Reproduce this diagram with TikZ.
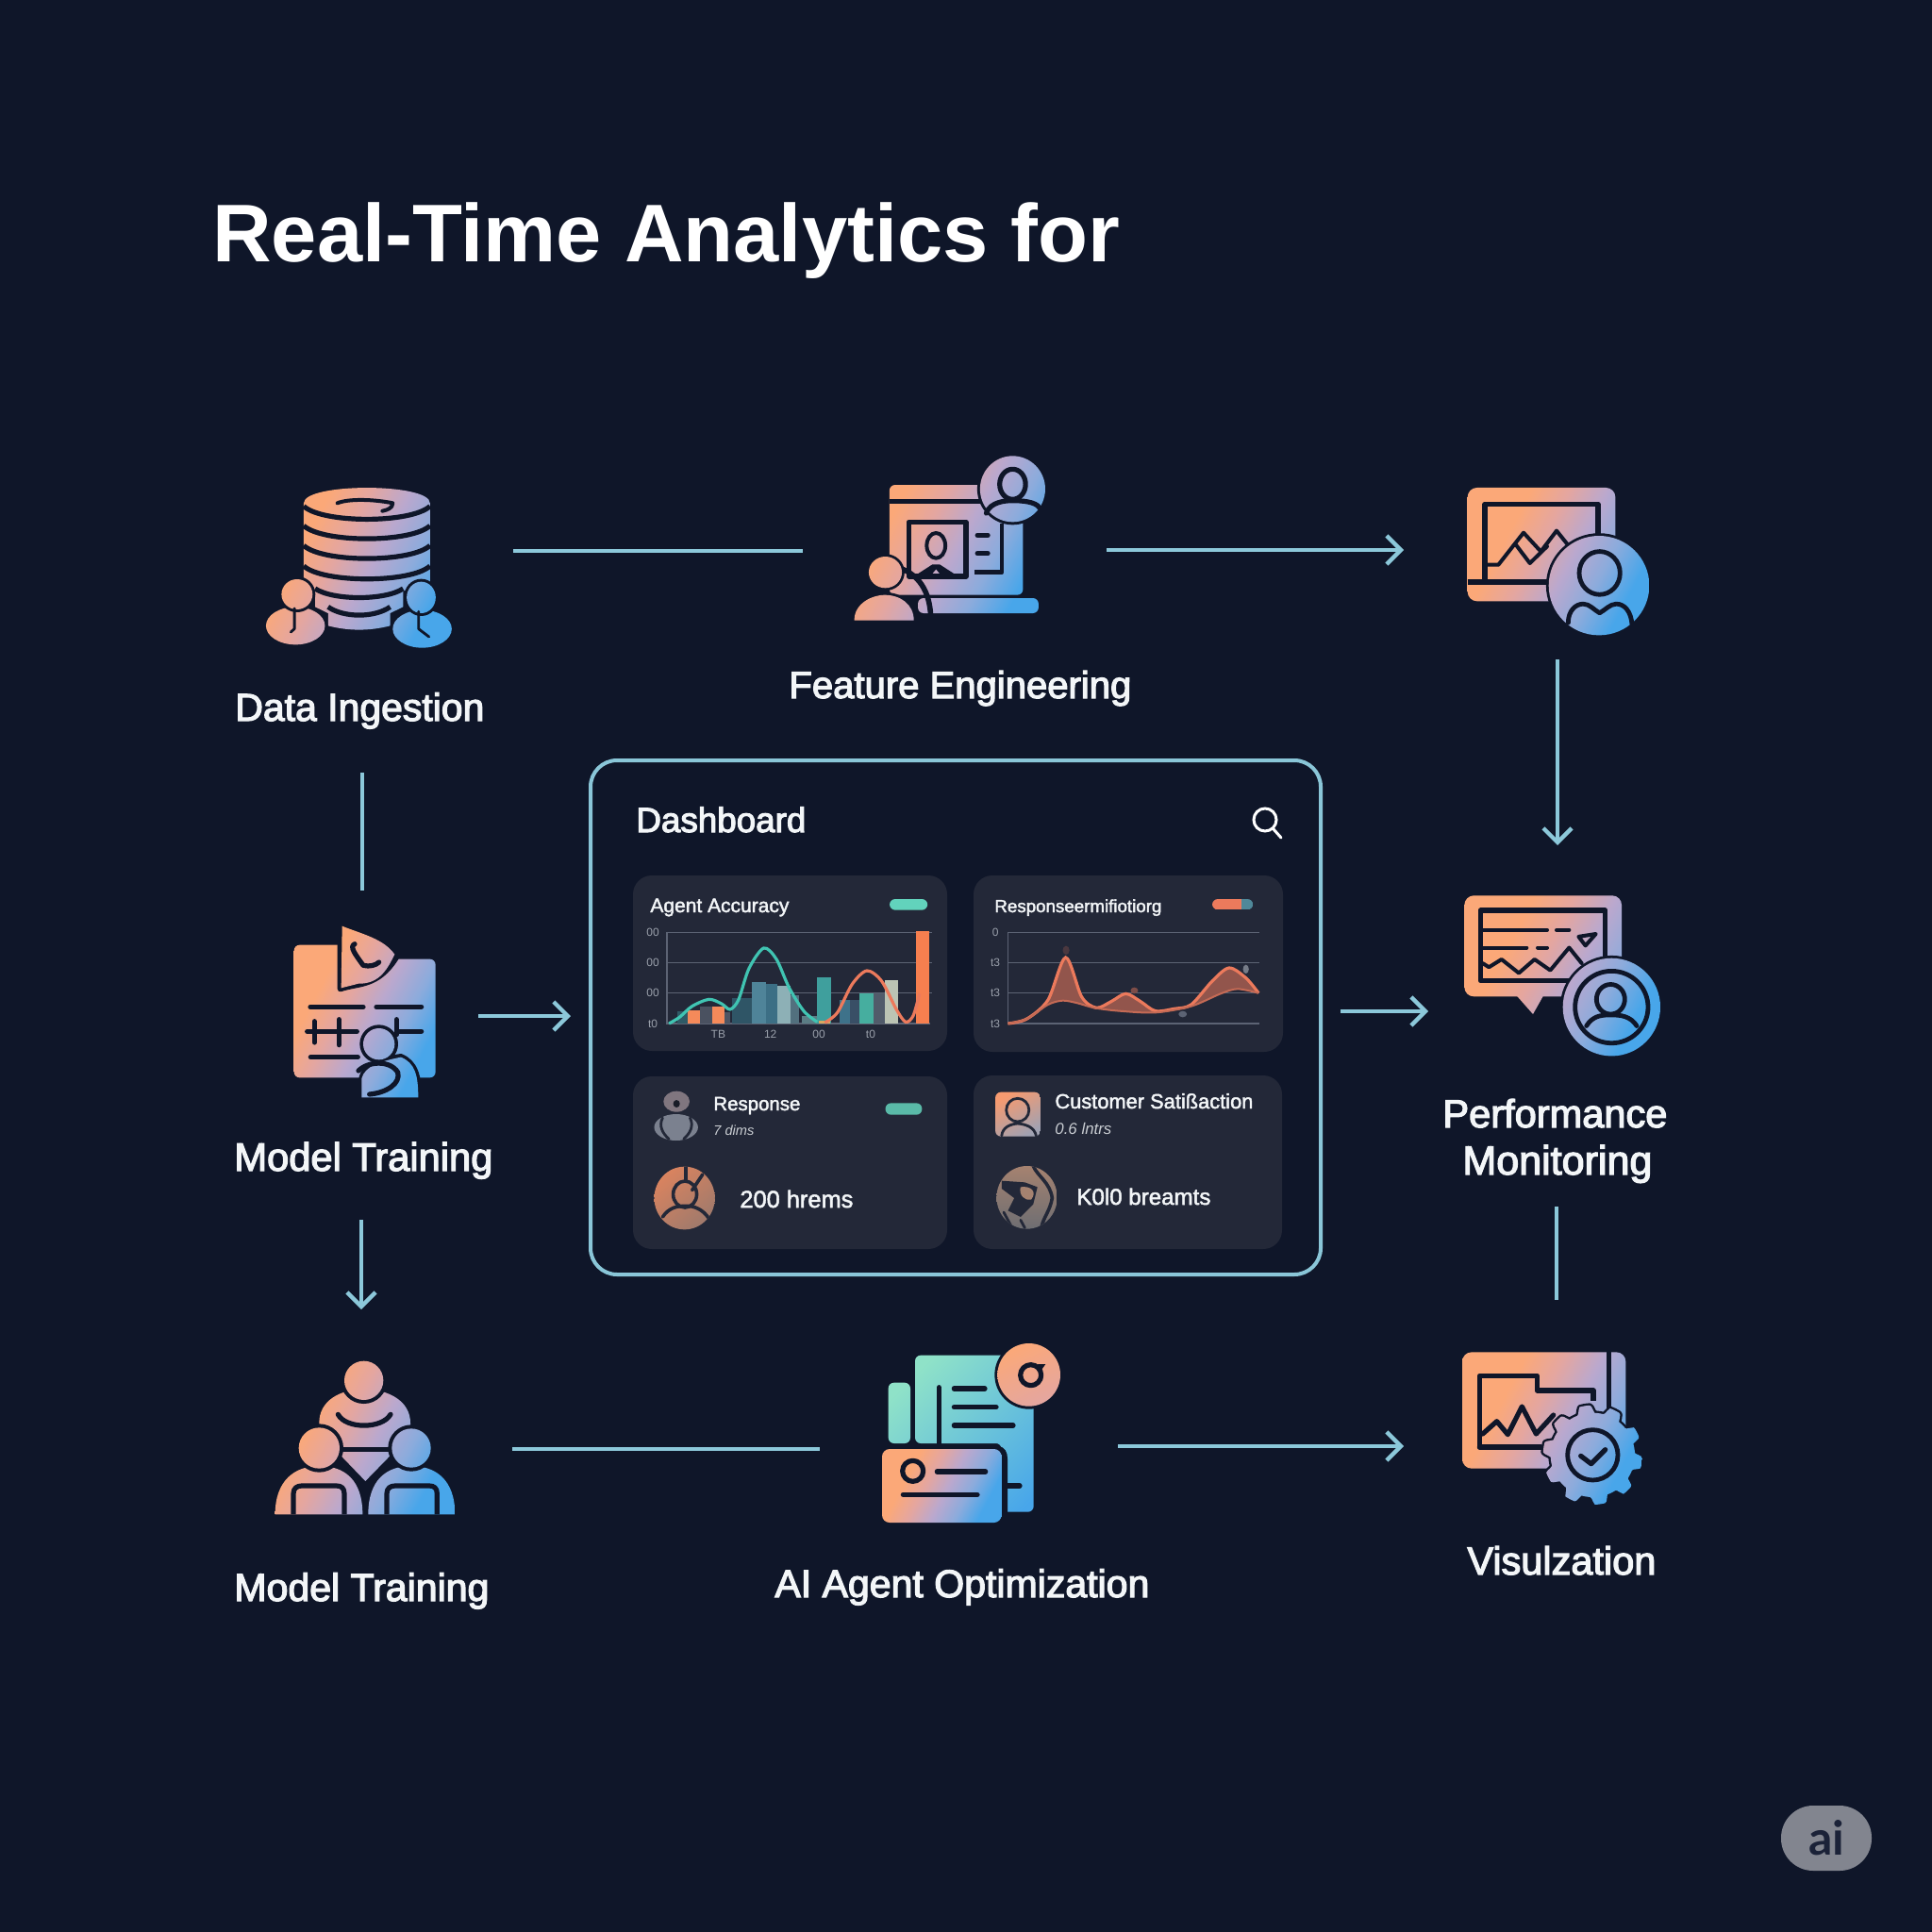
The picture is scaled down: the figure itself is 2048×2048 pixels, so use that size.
\documentclass[tikz,border=0pt]{standalone}
\usepackage{graphicx}
\usepackage{fontspec}
\usetikzlibrary{arrows.meta}
\setmainfont{Liberation Sans}
\newfontfamily\labfont{Liberation Sans}[FakeBold=3]
\newfontfamily\cardfont{Liberation Sans}[FakeBold=2]
\newfontfamily\boldfont{Liberation Sans Bold}
\newfontfamily\aifont{Lato}
\newlength\pxu \setlength\pxu{0.5pt}
\newcommand\fitt[2]{\resizebox{#1\pxu}{!}{#2}}
\definecolor{bgc}{HTML}{0F1629}
\definecolor{cardc}{HTML}{232838}
\definecolor{flowc}{HTML}{8CC8DA}
\definecolor{boxc}{HTML}{8AC6D8}
\definecolor{labc}{HTML}{F3F6F8}
\definecolor{icoA}{HTML}{FBA878}
\definecolor{icoP}{HTML}{E4A6A0}
\definecolor{icoB}{HTML}{BAA8CE}
\definecolor{icoM}{HTML}{8CABDC}
\definecolor{icoC}{HTML}{48A6EA}
\definecolor{tealA}{HTML}{8FE2C8}
\definecolor{tealB}{HTML}{7CC8D0}
\definecolor{gridc}{HTML}{5C6374}
\definecolor{axc}{HTML}{9AA0AB}
\definecolor{redc}{HTML}{EC7A5C}
\definecolor{pillA}{HTML}{62D3BC}
\definecolor{pillB}{HTML}{5ABAA8}
\definecolor{pillC}{HTML}{4F8899}
\definecolor{tealln}{HTML}{40C4B2}
\definecolor{badgec}{HTML}{82858F}
\definecolor{badget}{HTML}{1B2238}
\pgfdeclareverticalshading{iconsh}{100bp}{color(0bp)=(icoC); color(27bp)=(icoC); color(37bp)=(icoM); color(47bp)=(icoB); color(57bp)=(icoP); color(67bp)=(icoA); color(100bp)=(icoA)}
\newcommand\ibox{}
\newcommand\ig[2][iconshade]{\begin{scope}\clip #2;\shade[#1] \ibox;\end{scope}}
\tikzset{
 iconshade/.style={shading=iconsh,shading angle=62},
 tealshade/.style={top color=tealA,middle color=tealB,bottom color=icoC,shading angle=45},
 orangeshade/.style={top color=icoA,bottom color=icoP,shading angle=25},
 dk/.style={draw=bgc,line width=2.6pt,line cap=round,line join=round},
 halo/.style={draw=bgc,fill=bgc,line width=3pt,line join=round},
 flow/.style={draw=flowc,line width=1.9pt},
 flowa/.style={flow,-{Straight Barb[length=7.5pt,width=15pt,line width=2.2pt]}},
 lab/.style={anchor=base west,inner sep=0pt,text=labc,font=\labfont\fontsize{18}{18}\selectfont},
 tiny/.style={anchor=center,inner sep=0pt,text=axc,font=\fontsize{6}{6}\selectfont},
 cardt/.style={anchor=base west,inner sep=0pt,text=labc,font=\cardfont\fontsize{11}{11}\selectfont},
 subt/.style={anchor=base west,inner sep=0pt,text=labc!80!cardc,font=\itshape\fontsize{8}{8}\selectfont},
 cardbox/.style={fill=cardc,rounded corners=10pt},
 gridl/.style={draw=gridc,line width=0.8pt},
 cdk/.style={draw=cardc,line width=1.4pt,line cap=round,line join=round},
}
\begin{document}
\begin{tikzpicture}[x=0.5pt,y=-0.5pt]
\useasboundingbox (0,0) rectangle (2048,2048);
\fill[bgc] (0,0) rectangle (2048,2048);

% ---------- title
\node[anchor=base west,inner sep=0pt,text=white,font=\boldfont\fontsize{44}{44}\selectfont] (title) at (225,278) {\fitt{962}{Real-Time Analytics for}};

% ---------- icon 1 database
\begin{scope}[shift={(260,470)},xscale=1/1.823,yscale=1/3]
\renewcommand\ibox{(40,130) rectangle (400,650)}
\ig{(113,190) -- (113,440) -- (135,470) -- (135,520) -- (160,540) -- (160,580) .. controls (200,597) and (240,597) .. (280,580) -- (280,540) -- (305,520) -- (305,470) -- (357,440) -- (357,190) .. controls (357,125) and (113,125) .. (113,190) -- cycle}
\foreach \ye in {200,262,325,390}{\draw[dk,line cap=butt] (113,\ye) .. controls (150,\ye+55) and (320,\ye+55) .. (357,\ye);}
\draw[dk,line cap=butt] (135,462) .. controls (170,500) and (270,500) .. (305,462);
\draw[dk,line cap=butt] (160,520) .. controls (190,555) and (250,555) .. (280,520);
\draw[dk,line width=2pt] (178,190) .. controls (200,175) and (250,178) .. (285,190) .. controls (285,205) and (275,212) .. (265,215);
\draw[halo] (97,580) ellipse [x radius=57,y radius=60];
\ig{(97,580) ellipse [x radius=57,y radius=60]}
\draw[halo] (100,480) ellipse [x radius=30,y radius=48];
\ig{(100,480) ellipse [x radius=30,y radius=48]}
\draw[dk,line width=1.4pt] (95,525) -- (95,590) -- (88,600);
\draw[halo] (342,590) ellipse [x radius=57,y radius=60];
\ig{(342,590) ellipse [x radius=57,y radius=60]}
\draw[halo] (340,490) ellipse [x radius=28,y radius=50];
\ig{(340,490) ellipse [x radius=28,y radius=50]}
\draw[dk,line width=1.4pt] (335,535) -- (335,590) -- (355,615);
\end{scope}

% ---------- icon 2 feature engineering
\begin{scope}[shift={(260,470)},xscale=1/1.823,yscale=1/3]
\renewcommand\ibox{(1175,40) rectangle (1550,565)}
\ig{[rounded corners=3pt] (1245,132) rectangle (1503,482)}
\ig{[rounded corners=3pt] (1300,492) rectangle (1533,540)}
\draw[dk,line cap=butt] (1245,185) -- (1430,185);
\draw[dk,line cap=butt] (1282,250) rectangle (1393,423);
\draw[dk,line width=2pt] (1335,325) ellipse [x radius=18,y radius=40];
\fill[bgc] (1295,420) -- (1328,385) -- (1342,385) -- (1375,420) -- (1345,420) -- (1335,400) -- (1325,420) -- cycle;
\draw[dk,line width=2.6pt,line cap=round] (1415,292) -- (1435,292) (1415,350) -- (1435,350);
\draw[dk,line width=2.4pt,line cap=butt] (1410,410) -- (1462,410) -- (1462,255);
\draw[halo] (1483,145) ellipse [x radius=63,y radius=105];
\ig{(1483,145) ellipse [x radius=63,y radius=105]}
\draw[dk] (1483,130) ellipse [x radius=25,y radius=48];
\draw[dk] (1432,222) .. controls (1440,185) and (1470,182) .. (1483,182) .. controls (1500,182) and (1528,185) .. (1535,205);
\draw[dk,line width=2.8pt,line cap=butt] (1262,395) .. controls (1310,420) and (1325,490) .. (1325,565);
\draw[halo,line width=2.8pt] (1177,565) .. controls (1177,505) and (1215,482) .. (1235,482) .. controls (1265,482) and (1292,510) .. (1292,565) -- cycle;
\ig{(1177,563) .. controls (1177,505) and (1215,482) .. (1235,482) .. controls (1265,482) and (1292,510) .. (1292,563) -- cycle}
\draw[halo,line width=2.8pt] (1237,410) ellipse [x radius=32,y radius=50];
\ig{(1237,410) ellipse [x radius=32,y radius=50]}
\end{scope}

% ---------- icon 3 laptop + person
\begin{scope}[shift={(1500,490)},xscale=1/3,yscale=1/2.41]
\renewcommand\ibox{(167,65) rectangle (745,442)}
\ig{[rounded corners=5pt] (167,65) rectangle (637,355)}
\draw[dk,line cap=butt] (167,306) -- (430,306);
\draw[dk,line cap=butt] (222,306) -- (222,107) -- (582,107) -- (582,190);
\draw[dk,line width=2pt] (230,262) -- (265,262) -- (345,180) -- (400,228) -- (450,175) -- (495,220);
\draw[dk,line width=2pt] (320,210) -- (365,258) -- (420,215);
\draw[halo,line width=2.8pt] (585,315) ellipse [x radius=160,y radius=127];
\ig{(585,315) ellipse [x radius=160,y radius=127]}
\draw[dk,line width=2.4pt] (587,283) ellipse [x radius=65,y radius=55];
\draw[dk,line width=2.4pt] (487,410) .. controls (487,380) and (510,362) .. (535,362) .. controls (555,362) and (570,378) .. (587,385) .. controls (604,378) and (620,362) .. (640,362) .. controls (665,362) and (687,380) .. (690,415);
\end{scope}

% ---------- icon 4 performance
\begin{scope}[shift={(1500,490)},xscale=1/3,yscale=1/2.41]
\renewcommand\ibox{(157,1107) rectangle (780,1518)}
\ig{[rounded corners=5pt] (157,1107) rectangle (657,1365)}
\ig{(320,1360) -- (410,1360) -- (375,1410) -- cycle}
\draw[dk,line cap=butt] (208,1145) rectangle (605,1325);
\draw[dk,line width=2pt] (215,1195) -- (420,1195) (450,1195) -- (490,1195);
\draw[dk,line width=2pt] (215,1240) -- (355,1240) (390,1240) -- (420,1240);
\draw[dk,line width=2pt] (215,1280) -- (235,1290) -- (275,1270) -- (330,1305) -- (380,1270) -- (430,1298) -- (490,1240) -- (530,1280);
\draw[dk,line width=2pt] (520,1212) -- (575,1205) -- (542,1235) -- cycle;
\draw[halo,line width=2.8pt] (625,1392) ellipse [x radius=155,y radius=125];
\ig{(625,1392) ellipse [x radius=155,y radius=125]}
\draw[dk,line width=2.4pt] (625,1392) ellipse [x radius=116,y radius=92];
\draw[dk,line width=2.4pt] (622,1372) ellipse [x radius=45,y radius=38];
\draw[dk,line width=2.4pt] (545,1440) .. controls (565,1415) and (590,1412) .. (622,1412) .. controls (655,1412) and (685,1415) .. (705,1440);
\end{scope}

% ---------- icon 5 model training
\begin{scope}[shift={(270,960)},xscale=1/3,yscale=1/3]
\renewcommand\ibox{(125,65) rectangle (577,612)}
\ig{[rounded corners=3pt] (125,125) -- (340,125) -- (420,170) -- (575,170) -- (575,547) -- (125,547) -- cycle}
\draw[halo,line width=3pt] (272,65) -- (272,265) .. controls (330,245) and (390,260) .. (450,165) -- cycle;
\ig{(278,65) .. controls (340,90) and (410,105) .. (445,155) .. controls (425,195) and (400,250) .. (330,248) -- (275,262) -- cycle}
\draw[dk] (318,122) .. controls (300,130) and (320,155) .. (345,190) .. controls (365,195) and (385,190) .. (395,180);
\draw[dk] (177,322) -- (345,322) (387,322) -- (530,322);
\draw[dk] (167,400) -- (325,400) (455,400) -- (530,400);
\draw[dk] (178,482) -- (328,482);
\draw[dk] (190,368) -- (190,435) (268,362) -- (268,443) (451,362) -- (451,410);
\draw[halo,line width=3pt] (340,612) -- (340,550) .. controls (350,505) and (400,490) .. (465,480) .. controls (510,500) and (522,540) .. (522,612) -- cycle;
\draw[halo,line width=3pt] (395,440) circle [radius=52];
\ig{(340,610) -- (340,550) .. controls (350,510) and (400,495) .. (465,482) .. controls (510,500) and (520,540) .. (520,610) -- cycle}
\draw[dk] (330,525) .. controls (360,495) and (430,490) .. (455,530) .. controls (465,565) and (420,595) .. (365,600);
\ig{(395,440) circle [radius=50]}
\end{scope}

% ---------- icon 6 team
\begin{scope}[shift={(270,1420)},xscale=1/3,yscale=1/3]
\renewcommand\ibox{(65,68) rectangle (637,556)}
\ig{(205,265) .. controls (205,195) and (270,158) .. (347,158) .. controls (425,158) and (495,195) .. (495,265) -- (495,340) -- (430,370) -- (352,450) -- (275,370) -- (205,340) -- cycle}
\draw[dk] (265,238) .. controls (290,285) and (405,285) .. (432,238);
\draw[dk] (275,350) -- (425,350);
\draw[halo] (347,130) circle [radius=65];
\ig{(347,130) circle [radius=62]}
\draw[halo,line width=3pt] (65,556) .. controls (65,445) and (130,400) .. (205,400) .. controls (285,400) and (345,445) .. (345,556) -- cycle;
\ig{(65,556) .. controls (65,445) and (130,402) .. (205,402) .. controls (285,402) and (343,445) .. (343,556) -- cycle}
\draw[halo,line width=3pt] (205,345) circle [radius=68];
\ig{(205,345) circle [radius=65]}
\draw[dk,line cap=butt] (123,556) -- (123,490) .. controls (123,472) and (135,465) .. (150,465) -- (260,465) .. controls (275,465) and (285,472) .. (285,490) -- (285,556);
\draw[halo,line width=3pt] (360,556) .. controls (360,445) and (420,400) .. (498,400) .. controls (575,400) and (637,445) .. (637,556) -- cycle;
\ig{(361,556) .. controls (361,445) and (420,402) .. (498,402) .. controls (575,402) and (637,445) .. (637,556) -- cycle}
\draw[halo,line width=3pt] (498,345) circle [radius=65];
\ig{(498,345) circle [radius=62]}
\draw[dk,line cap=butt] (420,556) -- (420,490) .. controls (420,472) and (432,465) .. (447,465) -- (555,465) .. controls (570,465) and (580,472) .. (580,490) -- (580,556);
\end{scope}

% ---------- icon 7 agent optimisation
\begin{scope}[shift={(920,1410)},xscale=1/3,yscale=1/3]
\renewcommand\ibox{(45,78) rectangle (615,612)}
\ig[tealshade]{[rounded corners=3pt] (65,360) -- (65,167) -- (135,167) -- (135,360) -- cycle}
\ig[tealshade]{[rounded corners=3pt] (150,360) -- (150,80) -- (527,80) -- (527,578) -- (425,578) -- (425,360) -- cycle}
\draw[dk] (226,182) -- (226,365);
\draw[dk] (274,186) -- (372,186) (274,245) -- (408,245) (274,303) -- (462,303) (440,495) -- (483,495);
\draw[halo,line width=3pt] (512,142) circle [radius=100];
\renewcommand\ibox{(412,42) rectangle (612,242)}
\ig[orangeshade]{(512,142) circle [radius=100]}
\renewcommand\ibox{(45,378) rectangle (425,612)}
\draw[dk,line width=2.6pt] (518,143) circle [radius=33];
\fill[bgc] (540,108) -- (565,108) -- (548,132) -- cycle;
\draw[halo,line width=3pt] (45,378) -- (415,378) .. controls (428,380) and (435,390) .. (435,410) -- (435,590) -- (45,612) -- cycle;
\ig{[rounded corners=4pt] (45,378) rectangle (425,612)}
\draw[dk,line width=2.6pt] (143,448) circle [radius=33];
\draw[dk] (220,450) -- (374,450) (112,523) -- (348,523);
\end{scope}

% ---------- icon 8 visualisation
\begin{scope}[shift={(1530,1410)},xscale=1/3,yscale=1/3]
\renewcommand\ibox{(60,70) rectangle (632,565)}
\ig{[rounded corners=5pt] (60,70) rectangle (580,440)}
\draw[dk,line cap=butt] (527,70) -- (527,265);
\draw[dk,line cap=butt] (115,372) -- (115,145) -- (298,145) -- (298,192) -- (477,192) -- (477,225);
\draw[dk] (115,372) -- (310,372);
\draw[dk] (125,330) -- (170,290) -- (205,332) -- (250,243) -- (295,330) -- (350,270);
\draw[halo,line width=2.4pt,shift={(475,397)}] plot[samples=181,domain=0:358] ({cos(\x)*(146+12*max(-1,min(1,2.5*sin(10*\x))))},{sin(\x)*(146+12*max(-1,min(1,2.5*sin(10*\x))))}) -- cycle;
\ig{[shift={(475,397)}] plot[samples=181,domain=0:358] ({cos(\x)*(146+12*max(-1,min(1,2.5*sin(10*\x))))},{sin(\x)*(146+12*max(-1,min(1,2.5*sin(10*\x))))}) -- cycle}
\draw[dk,line width=2.4pt] (475,397) circle [radius=80];
\draw[dk,line width=2.6pt] (437,400) -- (470,425) -- (515,380);
\end{scope}

% ---------- dashboard
\draw[boxc,line width=2pt,rounded corners=14pt] (626,806) rectangle (1400,1351);
\node[lab] (dash) at (674,882) {\fitt{180}{Dashboard}};
\draw[white,line width=1.5pt] (1341,869) circle [radius=12];
\draw[white,line width=1.5pt,line cap=round] (1350,879) -- (1358,888);
\fill[cardbox] (671,928) rectangle (1004,1114);
\fill[cardbox] (1032,928) rectangle (1360,1115);
\fill[cardbox] (671,1141) rectangle (1004,1324);
\fill[cardbox] (1032,1140) rectangle (1359,1324);

\node[cardt] (t1) at (689,967) {\fitt{147}{Agent Accuracy}};
\node[cardt] (t2) at (1054,967) {\fitt{177}{Responseermifiotiorg}};
\node[cardt] (t3) at (756,1177) {\fitt{92}{Response}};
\node[subt] (s3) at (756,1203) {\fitt{43}{7 dims}};
\node[cardt] (t4) at (1118,1175) {\fitt{210}{Customer Satißaction}};
\node[subt] (s4) at (1118,1202) {\fitt{60}{0.6 lntrs}};
\node[cardt] (v3) at (784,1280) {\fitt{120}{200 hrems}};
\node[cardt] (v4) at (1141,1277) {\fitt{142}{K0l0 breamts}};

% chart 1 and 2 (local coordinates)
\begin{scope}[shift={(660,920)},xscale=1/2.24,yscale=1/3]
\fill[rounded corners=3pt,fill=pillA] (634,99) rectangle (724,134);
\begin{scope}\clip[rounded corners=3pt] (1400,99) rectangle (1497,133);
\fill[redc] (1400,99) rectangle (1470,133);
\fill[pillC] (1470,99) rectangle (1497,133);
\end{scope}
\foreach \yy in {205,302,398}{\draw[gridl] (105,\yy) -- (735,\yy); \draw[gridl] (915,\yy) -- (1512,\yy);}
\draw[gridl] (105,205) -- (105,495) -- (730,495);
\draw[gridl] (915,205) -- (915,495) -- (1512,495);
\foreach \xa/\xb/\ya/\cc in {130/155/455/2F5A66,155/183/452/F58A5A,183/212/440/4A5160,212/243/440/F58A5A,243/255/460/4D5564,260/307/415/2F5566,307/340/362/4F8499,340/368/370/3C6F85,368/398/375/8DB0B6,398/418/405/52707E,425/462/470/5B7D85,462/495/348/3F9F9D,467/492/485/D8A860,515/540/420/3E728A,540/562/420/394F66,562/595/398/46AE9F,595/622/398/515B6A,622/655/358/BCC4B4,696/728/200/F67F4F}{
 \definecolor{barc}{HTML}{\cc}\fill[barc] (\xa,\ya) rectangle (\xb,495);}
\draw[tealln,line width=1.6pt] plot[smooth] coordinates {(110,495)(135,475)(165,440)(205,418)(235,432)(255,450)(275,420)(300,320)(335,255)(365,290)(395,380)(430,455)(462,490)};
\draw[redc,line width=1.6pt] plot[smooth] coordinates {(480,492)(510,460)(545,370)(580,327)(615,360)(650,450)(672,490)(690,470)(705,400)};
\fill[fill=redc!55!cardc] plot[smooth] coordinates {(915,495)(960,480)(1010,420)(1052,285)(1090,410)(1125,445)(1160,425)(1195,400)(1230,425)(1265,455)(1310,448)(1350,435)(1400,360)(1440,318)(1480,350)(1510,398)} -- plot[smooth] coordinates {(1510,398)(1460,385)(1420,400)(1350,440)(1265,460)(1180,455)(1120,445)(1080,430)(1045,422)(1010,435)(960,480)(915,495)} -- cycle;
\draw[redc,line width=1.6pt] plot[smooth] coordinates {(915,495)(960,480)(1010,420)(1052,285)(1090,410)(1125,445)(1160,425)(1195,400)(1230,425)(1265,455)(1310,448)(1350,435)(1400,360)(1440,318)(1480,350)(1510,398)};
\draw[redc!80!cardc,line width=1pt] plot[smooth] coordinates {(1510,398)(1460,385)(1420,400)(1350,440)(1265,460)(1180,455)(1120,445)(1080,430)(1045,422)(1010,435)(960,480)(915,495)};
\fill[fill=redc!20!cardc] (1053,262) ellipse [x radius=8,y radius=14];
\fill[fill=redc!45!cardc] (1215,390) ellipse [x radius=9,y radius=10];
\fill[fill=gridc] (1330,465) ellipse [x radius=10,y radius=10];
\fill[fill=axc!70!cardc] (1480,322) ellipse [x radius=7,y radius=14];
\node[tiny] (a1) at (72,205) {00};
\node[tiny] (a2) at (72,302) {00};
\node[tiny] (a3) at (72,398) {00};
\node[tiny] (a4) at (72,495) {t0};
\node[tiny] (b1) at (227,530) {TB};
\node[tiny] (b2) at (351,530) {12};
\node[tiny] (b3) at (466,530) {00};
\node[tiny] (b4) at (589,530) {t0};
\node[tiny] (c1) at (885,205) {0};
\node[tiny] (c2) at (885,302) {t3};
\node[tiny] (c3) at (885,398) {t3};
\node[tiny] (c4) at (885,495) {t3};
\end{scope}

% card avatars
\begin{scope}[shift={(660,1130)},xscale=1/2.24,yscale=1/3]
\renewcommand\ibox{(885,83) rectangle (992,224)}
\fill[fill=axc!50!gridc] (127,195) ellipse [x radius=52,y radius=42];
\draw[cdk] (95,165) .. controls (85,190) and (95,215) .. (110,232);
\draw[cdk] (160,165) .. controls (170,190) and (160,215) .. (145,232);
\fill[fill=redc!15!gridc!90!white] (128,113) ellipse [x radius=31,y radius=33];
\fill[fill=cardc!70!black] (128,120) ellipse [x radius=8,y radius=12];
\begin{scope}\clip[rounded corners=3pt] (885,83) rectangle (992,224);
\shade[top color=icoA!70!redc,bottom color=axc!80!icoB,shading angle=30] \ibox;\end{scope}
\draw[cdk] (938,140) ellipse [x radius=27,y radius=37];
\draw[cdk] (900,222) .. controls (902,195) and (920,185) .. (938,183) .. controls (958,185) and (978,195) .. (982,222);
% pie
\definecolor{pieA}{HTML}{D9835F}
\definecolor{pieB}{HTML}{A07A6C}
\begin{scope}\clip (147,420) ellipse [x radius=72,y radius=100];
\shade[top color=pieA,bottom color=pieB,shading angle=40] (75,320) rectangle (219,520);
\draw[cdk,line width=1.8pt] (148,408) ellipse [x radius=28,y radius=42];
\draw[cdk,line width=1.8pt] (150,320) -- (150,365) (190,345) -- (165,395);
\draw[cdk,line width=1.8pt] (95,480) .. controls (110,450) and (130,445) .. (150,445) .. controls (170,445) and (190,455) .. (205,485);
\end{scope}
% portrait disc
\definecolor{discA}{HTML}{A58270}
\definecolor{discB}{HTML}{6E6E72}
\begin{scope}\clip (960,418) ellipse [x radius=72,y radius=100];
\shade[top color=discA,bottom color=discB,shading angle=0] (888,318) rectangle (1032,518);
\draw[cdk,line width=1.8pt] (975,318) .. controls (985,350) and (1015,370) .. (1020,420) .. controls (1015,460) and (1000,480) .. (995,510);
\fill[fill=cardc] (900,365) -- (955,370) -- (985,385) -- (975,440) -- (945,480) -- (915,460) -- (930,420) -- (900,390) -- cycle;
\fill[fill=discA] (945,385) .. controls (970,380) and (985,400) .. (970,425) .. controls (955,430) and (940,410) .. (945,385);
\draw[cdk,line width=1.4pt] (905,465) -- (925,515) (945,490) -- (955,515);
\end{scope}
\fill[rounded corners=3pt,fill=pillB] (624,118) rectangle (711,155);
\end{scope}

% ---------- section labels
\node[lab] (l1) at (249,764) {\fitt{264}{Data Ingestion}};
\node[lab] (l2) at (836,740) {\fitt{363}{Feature Engineering}};
\node[lab] (l3) at (1529,1195) {\fitt{238}{Performance}};
\node[lab] (l3b) at (1550,1245) {\fitt{201}{Monitoring}};
\node[lab] (l4) at (248,1241) {\fitt{274}{Model Training}};
\node[lab] (l5) at (248,1697) {\fitt{270}{Model Training}};
\node[lab] (l6) at (821,1693) {\fitt{397}{AI Agent Optimization}};
\node[lab] (l7) at (1555,1669) {\fitt{200}{Visulzation}};

% ---------- connectors
\coordinate (c1a) at (544,584); \coordinate (c1b) at (851,584);
\coordinate (c2a) at (1173,583); \coordinate (c2b) at (1488,583);
\coordinate (c3a) at (1651,699); \coordinate (c3b) at (1651,896);
\coordinate (c4a) at (384,819); \coordinate (c4b) at (384,944);
\coordinate (c5a) at (507,1077); \coordinate (c5b) at (605,1077);
\coordinate (c6a) at (1421,1072); \coordinate (c6b) at (1514,1072);
\coordinate (c7a) at (383,1293); \coordinate (c7b) at (383,1388);
\coordinate (c8a) at (543,1536); \coordinate (c8b) at (869,1536);
\coordinate (c9a) at (1185,1533); \coordinate (c9b) at (1488,1533);
\coordinate (c10a) at (1650,1279); \coordinate (c10b) at (1650,1378);
\draw[flow] (c1a) -- (c1b);
\draw[flowa] (c2a) -- (c2b);
\draw[flowa] (c3a) -- (c3b);
\draw[flow] (c4a) -- (c4b);
\draw[flowa] (c5a) -- (c5b);
\draw[flowa] (c6a) -- (c6b);
\draw[flowa] (c7a) -- (c7b);
\draw[flow] (c8a) -- (c8b);
\draw[flowa] (c9a) -- (c9b);
\draw[flow] (c10a) -- (c10b);

% ---------- badge
\fill[fill=badgec,rounded corners=17pt] (1888,1914) rectangle (1984,1983);
\node[anchor=base west,inner sep=0pt,text=badget,font=\aifont\bfseries\fontsize{24}{24}\selectfont] (ai) at (1917,1966) {\fitt{38}{ai}};
\end{tikzpicture}
\end{document}
